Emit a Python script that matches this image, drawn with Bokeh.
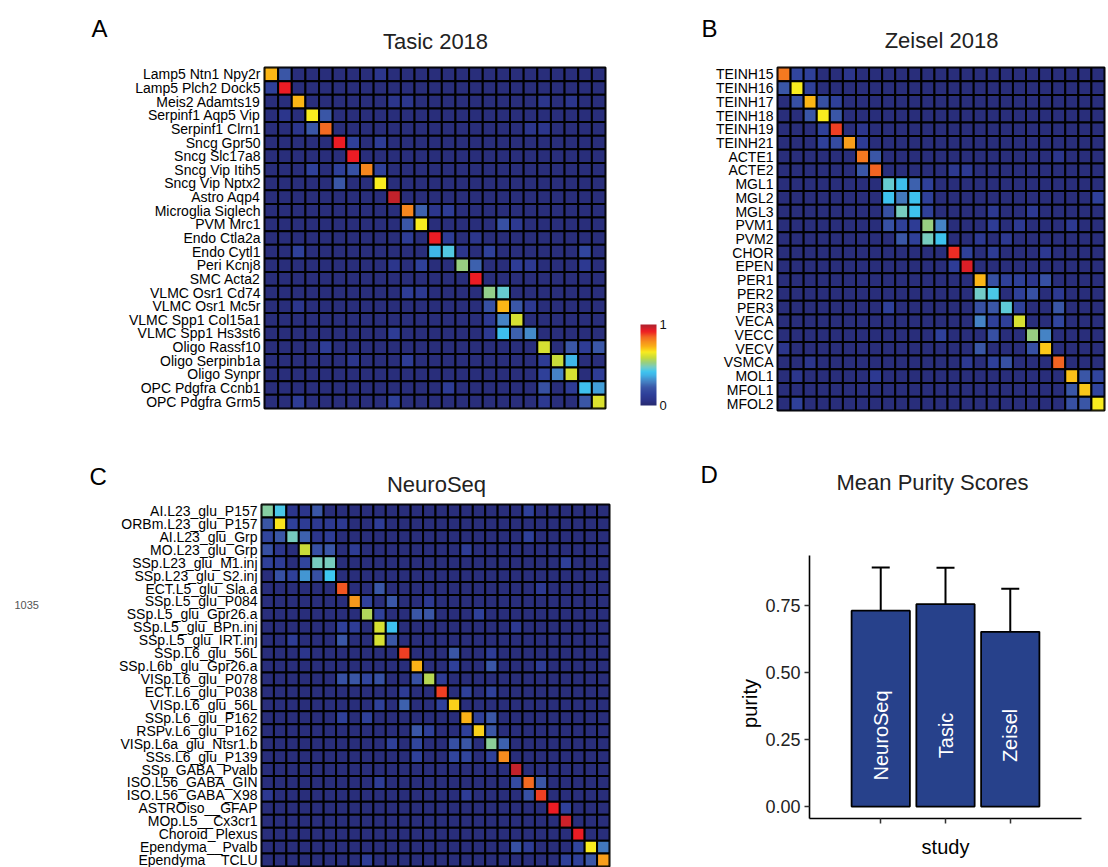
import math

from bokeh.core.properties import value
from bokeh.embed import file_html
from bokeh.layouts import column, row
from bokeh.models import (ColorBar, ColumnDataSource, FactorRange, FixedTicker,
                          LinearColorMapper, NumeralTickFormatter, Range1d, TeeHead, Whisker)
from bokeh.plotting import figure
from bokeh.resources import INLINE

# ---------------------------------------------------------------- data
# Purity matrices (percent); rows are the reference clusters listed top to bottom.
tasic_labels = [
    "Lamp5 Ntn1 Npy2r", "Lamp5 Plch2 Dock5", "Meis2 Adamts19", "Serpinf1 Aqp5 Vip",
    "Serpinf1 Clrn1", "Sncg Gpr50", "Sncg Slc17a8", "Sncg Vip Itih5", "Sncg Vip Nptx2",
    "Astro Aqp4", "Microglia Siglech", "PVM Mrc1", "Endo Ctla2a", "Endo Cytl1",
    "Peri Kcnj8", "SMC Acta2", "VLMC Osr1 Cd74", "VLMC Osr1 Mc5r", "VLMC Spp1 Col15a1",
    "VLMC Spp1 Hs3st6", "Oligo Rassf10", "Oligo Serpinb1a", "Oligo Synpr",
    "OPC Pdgfra Ccnb1", "OPC Pdgfra Grm5",
]
tasic_values = [
    [72, 22, 3, 3, 3, 3, 3, 3, 8, 3, 3, 3, 3, 3, 3, 3, 3, 3, 3, 3, 3, 3, 3, 3, 3],
    [14, 92, 3, 3, 3, 3, 3, 3, 3, 3, 3, 3, 3, 3, 3, 3, 3, 3, 3, 3, 3, 3, 3, 3, 3],
    [3, 3, 72, 3, 3, 3, 3, 3, 3, 8, 8, 3, 3, 3, 3, 3, 3, 3, 3, 3, 8, 3, 8, 3, 3],
    [3, 8, 3, 66, 22, 3, 3, 3, 3, 3, 3, 3, 3, 3, 3, 3, 3, 3, 3, 3, 3, 3, 3, 3, 3],
    [3, 3, 8, 22, 84, 3, 3, 3, 3, 3, 3, 3, 3, 3, 3, 3, 3, 3, 3, 8, 8, 3, 3, 3, 3],
    [3, 3, 3, 3, 3, 92, 14, 3, 12, 3, 3, 3, 3, 3, 3, 3, 3, 3, 3, 3, 3, 3, 3, 3, 3],
    [3, 3, 3, 3, 3, 3, 92, 3, 3, 3, 3, 3, 3, 3, 3, 3, 3, 3, 3, 3, 3, 3, 3, 3, 3],
    [3, 3, 3, 14, 3, 14, 20, 80, 14, 3, 3, 3, 3, 3, 3, 3, 3, 3, 3, 3, 3, 3, 3, 3, 3],
    [3, 3, 3, 3, 3, 22, 3, 3, 66, 3, 3, 3, 3, 3, 3, 3, 3, 3, 3, 3, 3, 3, 3, 3, 3],
    [3, 3, 3, 3, 3, 3, 3, 3, 3, 97, 3, 3, 3, 3, 3, 3, 3, 3, 3, 3, 3, 3, 3, 3, 3],
    [3, 3, 3, 3, 3, 3, 3, 3, 3, 3, 80, 24, 8, 12, 3, 3, 3, 3, 3, 3, 3, 3, 3, 3, 3],
    [3, 3, 3, 3, 3, 3, 3, 3, 3, 3, 22, 66, 3, 3, 3, 3, 3, 20, 10, 3, 3, 3, 3, 3, 3],
    [3, 3, 3, 3, 3, 3, 3, 3, 3, 3, 12, 3, 92, 12, 3, 8, 3, 3, 3, 3, 3, 3, 3, 3, 3],
    [3, 3, 14, 3, 3, 3, 3, 3, 3, 3, 3, 3, 38, 44, 8, 3, 14, 3, 3, 3, 3, 3, 3, 16, 3],
    [3, 3, 3, 3, 3, 3, 3, 3, 3, 8, 3, 14, 3, 3, 53, 24, 3, 3, 12, 10, 3, 3, 3, 10, 3],
    [3, 3, 3, 3, 3, 3, 3, 3, 3, 3, 3, 3, 3, 3, 3, 92, 3, 3, 3, 3, 3, 3, 3, 3, 3],
    [3, 3, 3, 3, 3, 3, 3, 3, 3, 3, 12, 10, 3, 3, 3, 3, 52, 46, 3, 3, 3, 3, 3, 3, 3],
    [3, 3, 8, 3, 3, 3, 3, 3, 3, 3, 3, 3, 3, 3, 3, 3, 20, 72, 22, 10, 3, 3, 3, 3, 3],
    [3, 3, 3, 3, 3, 3, 3, 3, 3, 3, 3, 3, 3, 3, 3, 3, 10, 30, 61, 3, 3, 3, 3, 3, 3],
    [3, 3, 3, 3, 3, 3, 3, 3, 3, 12, 3, 3, 3, 3, 3, 3, 10, 40, 24, 31, 3, 3, 3, 3, 3],
    [3, 3, 3, 3, 12, 3, 3, 3, 3, 3, 3, 3, 3, 3, 3, 3, 3, 3, 3, 3, 61, 3, 22, 12, 22],
    [3, 3, 3, 3, 3, 3, 8, 3, 3, 3, 12, 3, 3, 3, 3, 3, 3, 3, 3, 3, 12, 59, 38, 3, 3],
    [3, 3, 3, 3, 3, 3, 3, 3, 3, 3, 3, 3, 3, 3, 3, 3, 3, 3, 3, 3, 14, 30, 61, 3, 12],
    [3, 3, 3, 3, 3, 3, 3, 3, 3, 3, 3, 3, 3, 12, 3, 3, 3, 3, 3, 3, 20, 3, 12, 41, 34],
    [3, 3, 12, 3, 3, 3, 3, 3, 3, 14, 3, 3, 3, 3, 3, 3, 3, 3, 3, 3, 10, 3, 3, 22, 62],
]

zeisel_labels = [
    "TEINH15", "TEINH16", "TEINH17", "TEINH18", "TEINH19", "TEINH21", "ACTE1", "ACTE2",
    "MGL1", "MGL2", "MGL3", "PVM1", "PVM2", "CHOR", "EPEN", "PER1", "PER2", "PER3",
    "VECA", "VECC", "VECV", "VSMCA", "MOL1", "MFOL1", "MFOL2",
]
zeisel_values = [
    [82, 16, 14, 3, 3, 8, 3, 3, 3, 3, 3, 3, 3, 3, 3, 3, 3, 3, 3, 3, 3, 3, 3, 3, 3],
    [22, 66, 14, 3, 3, 3, 3, 3, 3, 3, 3, 3, 3, 3, 3, 3, 3, 3, 3, 3, 3, 3, 3, 3, 3],
    [3, 20, 72, 20, 14, 3, 3, 3, 3, 3, 3, 3, 3, 3, 3, 3, 3, 3, 3, 3, 3, 3, 3, 3, 3],
    [3, 3, 22, 66, 22, 3, 3, 3, 3, 3, 3, 3, 3, 3, 3, 3, 3, 3, 3, 3, 3, 3, 3, 3, 3],
    [3, 3, 3, 14, 88, 3, 8, 3, 3, 3, 3, 3, 3, 3, 3, 3, 3, 3, 3, 3, 3, 3, 3, 3, 3],
    [3, 3, 3, 14, 18, 76, 12, 3, 3, 3, 3, 3, 3, 3, 3, 3, 3, 3, 3, 3, 3, 3, 3, 3, 3],
    [3, 3, 3, 3, 3, 3, 82, 22, 3, 3, 3, 3, 3, 3, 3, 3, 3, 3, 3, 3, 3, 8, 3, 3, 3],
    [3, 3, 3, 3, 3, 3, 22, 85, 3, 3, 3, 3, 3, 10, 10, 3, 3, 3, 3, 3, 3, 3, 3, 3, 3],
    [3, 3, 3, 3, 3, 3, 3, 3, 46, 40, 24, 14, 3, 3, 3, 3, 3, 3, 3, 3, 3, 3, 3, 3, 3],
    [3, 3, 3, 3, 3, 3, 3, 3, 41, 28, 41, 14, 3, 3, 3, 3, 3, 3, 3, 3, 3, 3, 3, 3, 14],
    [3, 3, 3, 3, 3, 3, 3, 3, 20, 48, 41, 14, 3, 3, 3, 3, 10, 3, 3, 10, 3, 3, 3, 3, 3],
    [3, 3, 3, 3, 3, 3, 3, 3, 20, 14, 12, 53, 30, 3, 3, 3, 12, 3, 10, 3, 3, 3, 10, 3, 3],
    [3, 3, 3, 3, 3, 3, 3, 3, 3, 22, 14, 48, 41, 3, 3, 10, 3, 10, 3, 3, 3, 3, 3, 3, 3],
    [3, 3, 3, 3, 3, 3, 3, 3, 3, 3, 3, 3, 3, 90, 14, 3, 12, 3, 3, 3, 10, 3, 3, 3, 3],
    [3, 3, 3, 3, 3, 3, 3, 3, 3, 3, 3, 3, 3, 12, 94, 3, 3, 3, 3, 3, 3, 3, 3, 3, 3],
    [3, 3, 3, 3, 3, 3, 3, 3, 3, 3, 3, 3, 3, 3, 3, 72, 20, 14, 14, 8, 20, 3, 3, 3, 3],
    [3, 3, 3, 3, 3, 3, 3, 3, 3, 3, 3, 3, 3, 3, 3, 47, 43, 3, 14, 20, 3, 10, 3, 3, 3],
    [3, 3, 3, 3, 3, 3, 3, 3, 14, 3, 3, 3, 3, 3, 3, 20, 22, 45, 14, 3, 3, 22, 3, 3, 3],
    [3, 3, 3, 3, 3, 3, 3, 3, 3, 3, 3, 3, 3, 3, 3, 30, 14, 14, 61, 3, 3, 16, 3, 3, 3],
    [3, 3, 3, 3, 3, 3, 3, 3, 3, 3, 3, 3, 14, 3, 3, 3, 20, 3, 3, 53, 30, 3, 3, 3, 3],
    [8, 3, 3, 3, 3, 3, 3, 3, 3, 3, 3, 3, 3, 3, 3, 22, 3, 3, 3, 20, 70, 3, 3, 3, 3],
    [3, 3, 8, 3, 3, 3, 3, 3, 3, 3, 3, 3, 3, 3, 10, 3, 14, 20, 3, 3, 3, 85, 3, 3, 3],
    [3, 8, 3, 3, 3, 3, 3, 10, 3, 3, 3, 3, 3, 3, 3, 3, 3, 3, 3, 3, 3, 3, 71, 22, 16],
    [3, 3, 3, 3, 3, 3, 3, 3, 3, 3, 3, 3, 3, 3, 3, 3, 3, 3, 3, 3, 3, 3, 22, 70, 16],
    [3, 14, 3, 3, 3, 3, 3, 3, 3, 3, 3, 3, 3, 3, 3, 3, 3, 3, 3, 3, 3, 3, 20, 22, 66],
]

neuroseq_labels = [
    "AI.L23_glu_P157", "ORBm.L23_glu_P157", "AI.L23_glu_Grp", "MO.L23_glu_Grp",
    "SSp.L23_glu_M1.inj", "SSp.L23_glu_S2.inj", "ECT.L5_glu_Sla.a", "SSp.L5_glu_P084",
    "SSp.L5_glu_Gpr26.a", "SSp.L5_glu_BPn.inj", "SSp.L5_glu_IRT.inj", "SSp.L6_glu_56L",
    "SSp.L6b_glu_Gpr26.a", "VISp.L6_glu_P078", "ECT.L6_glu_P038", "VISp.L6_glu_56L",
    "SSp.L6_glu_P162", "RSPv.L6_glu_P162", "VISp.L6a_glu_Ntsr1.b", "SSs.L6_glu_P139",
    "SSp_GABA_Pvalb", "ISO.L56_GABA_GIN", "ISO.L56_GABA_X98", "ASTROiso__GFAP",
    "MOp.L5__Cx3cr1", "Choroid_Plexus", "Ependyma__Pvalb", "Ependyma__TCLU",
]
neuroseq_values = [
    [50, 43, 8, 8, 22, 3, 3, 3, 3, 3, 3, 3, 3, 3, 3, 3, 3, 3, 3, 3, 3, 14, 3, 3, 3, 3, 3, 3],
    [22, 67, 14, 12, 10, 10, 10, 3, 3, 12, 3, 3, 3, 3, 3, 3, 3, 3, 3, 3, 3, 3, 3, 3, 3, 3, 3, 3],
    [16, 22, 48, 24, 8, 12, 3, 3, 3, 3, 3, 3, 3, 3, 3, 3, 3, 3, 3, 3, 3, 14, 3, 3, 3, 3, 3, 3],
    [20, 8, 3, 59, 20, 22, 3, 12, 3, 3, 3, 3, 3, 3, 3, 3, 12, 3, 3, 3, 3, 3, 3, 3, 3, 3, 3, 3],
    [14, 12, 3, 16, 48, 48, 3, 3, 3, 3, 3, 3, 3, 3, 3, 3, 3, 3, 3, 3, 3, 3, 3, 3, 14, 3, 3, 3],
    [3, 20, 14, 33, 20, 42, 3, 3, 3, 3, 3, 3, 3, 3, 3, 3, 3, 3, 3, 3, 3, 3, 3, 3, 3, 3, 3, 3],
    [3, 3, 3, 3, 3, 3, 86, 3, 3, 22, 3, 3, 3, 3, 3, 3, 3, 3, 3, 3, 3, 3, 10, 3, 3, 3, 3, 3],
    [3, 3, 3, 3, 3, 3, 3, 77, 14, 3, 22, 3, 3, 10, 3, 3, 3, 3, 3, 3, 3, 3, 3, 3, 3, 3, 3, 3],
    [3, 3, 3, 3, 3, 3, 3, 3, 56, 14, 3, 3, 22, 22, 3, 3, 3, 14, 3, 3, 3, 3, 3, 3, 3, 3, 3, 3],
    [3, 3, 3, 3, 3, 3, 14, 12, 3, 61, 41, 3, 3, 3, 3, 3, 3, 3, 3, 3, 10, 3, 3, 3, 3, 3, 3, 3],
    [3, 3, 12, 3, 3, 3, 22, 3, 3, 61, 22, 3, 3, 3, 3, 3, 3, 3, 3, 3, 3, 3, 3, 3, 3, 3, 3, 3],
    [3, 3, 3, 8, 3, 3, 3, 3, 3, 3, 3, 88, 3, 3, 3, 22, 3, 3, 12, 3, 3, 3, 3, 3, 3, 3, 3, 3],
    [3, 3, 3, 3, 3, 3, 3, 3, 3, 3, 3, 3, 73, 3, 3, 14, 3, 3, 22, 3, 3, 3, 12, 3, 3, 3, 3, 3],
    [3, 3, 3, 3, 3, 3, 20, 22, 16, 20, 3, 3, 20, 57, 12, 3, 3, 3, 3, 3, 3, 3, 3, 3, 3, 3, 3, 3],
    [3, 3, 3, 3, 3, 3, 3, 3, 3, 3, 3, 12, 3, 3, 88, 3, 14, 3, 14, 3, 3, 3, 3, 3, 3, 3, 3, 3],
    [3, 3, 3, 3, 3, 3, 3, 3, 3, 14, 3, 24, 3, 3, 14, 69, 3, 3, 3, 3, 3, 3, 3, 3, 3, 3, 3, 3],
    [3, 3, 3, 3, 3, 3, 14, 3, 14, 3, 3, 3, 3, 3, 3, 3, 73, 14, 22, 3, 3, 3, 3, 3, 3, 3, 3, 3],
    [3, 3, 3, 3, 3, 3, 3, 3, 3, 3, 3, 3, 22, 14, 3, 3, 14, 69, 22, 3, 3, 3, 3, 3, 3, 3, 3, 3],
    [3, 3, 3, 3, 3, 3, 3, 3, 3, 3, 14, 3, 16, 3, 3, 20, 22, 3, 51, 24, 3, 3, 3, 3, 3, 3, 3, 3],
    [3, 3, 3, 3, 3, 3, 3, 3, 3, 3, 3, 3, 14, 3, 3, 16, 16, 3, 14, 79, 3, 3, 3, 3, 3, 3, 3, 3],
    [3, 3, 3, 3, 3, 3, 3, 3, 3, 3, 3, 3, 3, 3, 3, 3, 3, 3, 3, 3, 97, 3, 3, 3, 3, 3, 3, 3],
    [3, 3, 3, 3, 3, 3, 3, 3, 3, 12, 3, 3, 3, 3, 3, 3, 3, 3, 3, 3, 18, 84, 22, 3, 3, 3, 3, 3],
    [10, 3, 3, 3, 3, 3, 3, 3, 3, 3, 3, 3, 3, 3, 3, 3, 12, 3, 3, 3, 3, 20, 88, 3, 3, 3, 3, 3],
    [3, 3, 3, 3, 3, 3, 3, 3, 3, 3, 3, 3, 3, 3, 3, 3, 3, 3, 3, 3, 3, 3, 3, 92, 14, 3, 3, 3],
    [3, 3, 3, 3, 3, 3, 3, 3, 3, 3, 3, 3, 3, 3, 3, 3, 3, 3, 3, 3, 3, 3, 3, 3, 96, 3, 3, 3],
    [3, 3, 3, 3, 3, 3, 3, 3, 3, 3, 3, 3, 3, 3, 3, 3, 3, 3, 3, 3, 3, 3, 3, 3, 3, 92, 3, 3],
    [3, 3, 3, 3, 3, 3, 3, 3, 3, 3, 3, 3, 3, 3, 3, 3, 3, 3, 3, 3, 20, 12, 3, 3, 3, 16, 66, 28],
    [3, 3, 3, 3, 3, 3, 3, 3, 12, 3, 3, 3, 3, 3, 3, 3, 3, 3, 3, 3, 3, 3, 3, 3, 14, 14, 22, 76],
]

# Mean purity per study with the spread shown as error bars.
studies = ["NeuroSeq", "Tasic", "Zeisel"]
purity_mean = [0.730, 0.754, 0.651]
purity_low = [0.569, 0.616, 0.492]
purity_high = [0.891, 0.890, 0.812]

# ---------------------------------------------------------------- styling
FONT = "Liberation Sans"
TITLE_COLOR = "#222222"

# jet-like ramp: navy -> blue -> cyan -> green -> yellow -> orange -> red
RAMP = [
    (0.00, "#272a70"), (0.06, "#2b3388"), (0.14, "#2f409a"), (0.22, "#3a56a6"),
    (0.30, "#4584c6"), (0.38, "#3fb6e8"), (0.42, "#3ec6f0"), (0.47, "#72ccc8"),
    (0.53, "#98cf80"), (0.59, "#c6db3a"), (0.66, "#f9ec1f"), (0.72, "#fbb716"),
    (0.78, "#f7941d"), (0.85, "#f26522"), (0.88, "#ef4123"), (0.92, "#ed1c24"),
    (0.97, "#c4222b"), (1.00, "#b21f2d"),
]


def _rgb(h):
    return tuple(int(h[i:i + 2], 16) for i in (1, 3, 5))


def ramp_color(t):
    for (t0, c0), (t1, c1) in zip(RAMP[:-1], RAMP[1:]):
        if t <= t1:
            f = (t - t0) / (t1 - t0)
            a, b = _rgb(c0), _rgb(c1)
            return "#%02x%02x%02x" % tuple(round(a[k] + (b[k] - a[k]) * f) for k in range(3))
    return RAMP[-1][1]


palette = [ramp_color(i / 255) for i in range(256)]
mapper = LinearColorMapper(palette=palette, low=0, high=1)


def text_strip(left, top, right, bottom, items):
    """A bare canvas for headings; its ranges follow page pixels (y grows downward,
    stored negated so text angles keep their usual sense).  It is wrapped in its own
    row so that layouts do not line its frame up with a neighbouring plot."""
    p = figure(width=right - left, height=bottom - top,
               x_range=Range1d(left, right), y_range=Range1d(-bottom, -top),
               x_axis_location=None, y_axis_location=None,
               toolbar_location=None, output_backend="svg", min_border=0)
    p.grid.visible = False
    p.outline_line_color = None
    for txt, x, y, size, align, color, angle, baseline in items:
        p.text(x=[x], y=[-y], text=[txt], text_font=value(FONT), text_font_size=size,
               text_align=align, text_baseline=baseline, text_color=color, angle=angle)
    return row(p)


def heading(txt, x, y, size="22px", align="center", color=TITLE_COLOR, angle=0.0,
            baseline="alphabetic"):
    return (txt, x, y, size, align, color, angle, baseline)


def heatmap(labels, values, width, height, left, right, top, bottom, label_size="14px"):
    xs, ys, vs = [], [], []
    for lab, vals in zip(labels, values):
        for j, v in enumerate(vals):
            xs.append(j)
            ys.append(lab)
            vs.append(v / 100.0)
    src = ColumnDataSource(dict(x=xs, y=ys, v=vs))
    n_cols = len(values[0])
    p = figure(width=width, height=height,
               x_range=Range1d(-0.5, n_cols - 0.5),
               y_range=FactorRange(factors=list(reversed(labels))),
               x_axis_location=None, toolbar_location=None, output_backend="svg",
               min_border_left=left, min_border_right=right,
               min_border_top=top, min_border_bottom=bottom)
    p.rect(x="x", y="y", width=1, height=1, source=src,
           fill_color={"field": "v", "transform": mapper},
           line_color="black", line_width=2)
    ax = p.yaxis[0]
    ax.axis_line_color = None
    ax.major_tick_line_color = None
    ax.minor_tick_line_color = None
    ax.major_tick_out = 0
    ax.major_tick_in = 0
    ax.major_label_standoff = 4
    ax.major_label_text_font = FONT
    ax.major_label_text_font_size = label_size
    ax.major_label_text_color = "black"
    p.grid.visible = False
    p.outline_line_color = "black"
    p.outline_line_width = 2
    p.background_fill_color = "white"
    p.border_fill_color = "white"
    return p


# ---------------------------------------------------------------- panel A
head_a = text_strip(0, 0, 700, 64, [
    heading("A", 91, 28, size="24px", align="left", color="black"),
    heading("Tasic 2018", 435, 41),
])
p_a = heatmap(tasic_labels, tasic_values, 700, 376, left=264, right=95, top=3, bottom=32)
cbar = ColorBar(color_mapper=mapper, width=16, height=81, location=(376, 3),
                padding=0, margin=0, ticker=FixedTicker(ticks=[0, 1]),
                major_tick_line_color=None, minor_tick_line_color=None,
                bar_line_color=None, border_line_color=None, background_fill_alpha=0,
                label_standoff=3, major_label_text_font=FONT,
                major_label_text_font_size="13px", major_label_text_color="#111111")
p_a.add_layout(cbar)

# ---------------------------------------------------------------- panel B
head_b = text_strip(700, 0, 1108, 64, [
    heading("B", 701, 28, size="24px", align="left", color="black"),
    heading("Zeisel 2018", 941, 40),
])
p_b = heatmap(zeisel_labels, zeisel_values, 408, 376, left=77, right=4, top=3, bottom=30)

# ---------------------------------------------------------------- panel C
side_c = text_strip(0, 440, 80, 867, [
    heading("1035", 14, 604, size="11px", align="left", color="#555555"),
])
head_c = text_strip(80, 440, 700, 501, [
    heading("C", 89, 476, size="24px", align="left", color="black"),
    heading("NeuroSeq", 436, 484),
])
p_c = heatmap(neuroseq_labels, neuroseq_values, 620, 366, left=181, right=91, top=3, bottom=1)

# ---------------------------------------------------------------- panel D
head_d = text_strip(700, 440, 1108, 552, [
    heading("D", 700, 474, size="24px", align="left", color="black"),
    heading("Mean Purity Scores", 932, 482),
])
side_d = text_strip(700, 552, 762, 867, [
    heading("purity", 749, 703, size="20px", color="black", angle=math.pi / 2,
            baseline="middle"),
])

bar_src = ColumnDataSource(dict(
    study=studies, mean=purity_mean, lo=purity_low, hi=purity_high,
    label_y=[0.265] * len(studies),
))
y_hi = max(purity_high)
y_pad = 0.05 * y_hi
p_d = figure(width=346, height=315,
             x_range=FactorRange(factors=studies, range_padding=0.6,
                                 range_padding_units="absolute"),
             y_range=Range1d(-y_pad, y_hi + y_pad),
             toolbar_location=None, output_backend="svg",
             min_border_left=47, min_border_right=27, min_border_top=3, min_border_bottom=49)
p_d.vbar(x="study", top="mean", width=0.9, source=bar_src,
         fill_color="#27418b", line_color="black", line_width=1.8)
p_d.add_layout(Whisker(source=bar_src, base="study", upper="hi", lower="lo",
                       line_color="black", line_width=2,
                       upper_head=TeeHead(size=18, line_color="black", line_width=2),
                       lower_head=TeeHead(size=18, line_color="black", line_width=2)))
p_d.text(x="study", y="label_y", text="study", source=bar_src, angle=math.pi / 2,
         text_align="center", text_baseline="middle", text_color="white",
         text_font=value(FONT), text_font_size="20px")

for ax in (p_d.xaxis[0], p_d.yaxis[0]):
    ax.axis_line_color = "black"
    ax.axis_line_width = 1.6
    ax.major_tick_line_color = "#333333"
    ax.major_tick_line_width = 1.5
    ax.major_tick_out = 5
    ax.major_tick_in = 0
    ax.minor_tick_line_color = None
    ax.major_label_text_font = FONT
    ax.major_label_text_font_size = "18px"
    ax.major_label_text_color = "#222222"
    ax.major_label_standoff = 4
p_d.yaxis[0].ticker = FixedTicker(ticks=[0, 0.25, 0.5, 0.75])
p_d.yaxis[0].formatter = NumeralTickFormatter(format="0.00")
xa = p_d.xaxis[0]
xa.major_label_text_color = None
xa.major_label_text_font_size = "0px"
xa.major_label_standoff = 0
xa.axis_label = "study"
xa.axis_label_text_font = FONT
xa.axis_label_text_font_size = "20px"
xa.axis_label_text_font_style = "normal"
xa.axis_label_text_color = "black"
xa.axis_label_standoff = 12
p_d.grid.visible = False
p_d.outline_line_color = None

layout = column(
    row(column(head_a, p_a), column(head_b, p_b)),
    row(side_c, column(head_c, p_c), column(head_d, row(side_d, p_d))),
)

with open("out.html", "w") as f:
    f.write(file_html(layout, INLINE, title="Purity"))
